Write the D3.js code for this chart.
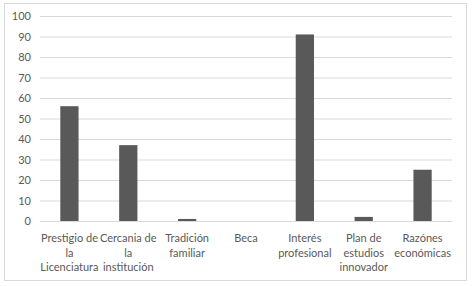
<!DOCTYPE html>
<html><head><meta charset="utf-8">
<script src="https://cdn.jsdelivr.net/npm/d3@7"></script>
<style>html,body{margin:0;padding:0;background:#fff;}svg{display:block;}</style>
</head><body>
<script>
const categories = [
  ["Prestigio de","la","Licenciatura"],
  ["Cercania de","la","institución"],
  ["Tradición","familiar"],
  ["Beca"],
  ["Interés","profesional"],
  ["Plan de","estudios","innovador"],
  ["Razónes","económicas"]
];
const values = [56, 37, 1, 0, 91, 2, 25];
const yTicks = [0,10,20,30,40,50,60,70,80,90,100];

const W = 473, H = 286;
const m = {left: 40, right: 21, top: 16, bottom: 65};
const svg = d3.select("body").append("svg").attr("width", W).attr("height", H);
svg.append("rect").attr("x",4.5).attr("y",3.5).attr("width",462).attr("height",277)
  .attr("fill","#fff").attr("stroke","#d9d9d9");

const x = d3.scaleBand().domain(d3.range(categories.length))
  .range([m.left, W - m.right]).paddingInner(0.69).paddingOuter(0.345);
const y = d3.scaleLinear().domain([0,100]).range([H - m.bottom, m.top]);

const font = "Lato, 'Open Sans', sans-serif";
// gridlines
const yAxis = d3.axisLeft(y).tickValues(yTicks).tickSize(-(W - m.right - m.left)).tickPadding(9);
const gy = svg.append("g").attr("transform",`translate(${m.left},0)`).call(yAxis);
gy.select(".domain").remove();
gy.selectAll(".tick line").attr("stroke","#d9d9d9");
gy.selectAll(".tick text").attr("fill","#595959").attr("font-family",font).attr("font-size","11px");

svg.append("g").selectAll("rect").data(values).join("rect")
  .attr("x",(d,i)=>x(i)).attr("width",x.bandwidth())
  .attr("y",d=>y(d)).attr("height",d=>y(0)-y(d)).attr("fill","#595959");

// x labels
const xAxis = d3.axisBottom(x).tickSize(0).tickFormat("");
const gx = svg.append("g").attr("transform",`translate(0,${y(0)})`).call(xAxis);
gx.select(".domain").attr("stroke","#d9d9d9");
gx.selectAll(".tick").each(function(d){
  const t = d3.select(this).append("text").attr("fill","#595959")
    .attr("font-family",font).attr("font-size","11px").attr("text-anchor","middle");
  categories[d].forEach((line,k)=>{
    t.append("tspan").attr("x",0).attr("y",21 + k*14.5).text(line);
  });
});
</script>
</body></html>
